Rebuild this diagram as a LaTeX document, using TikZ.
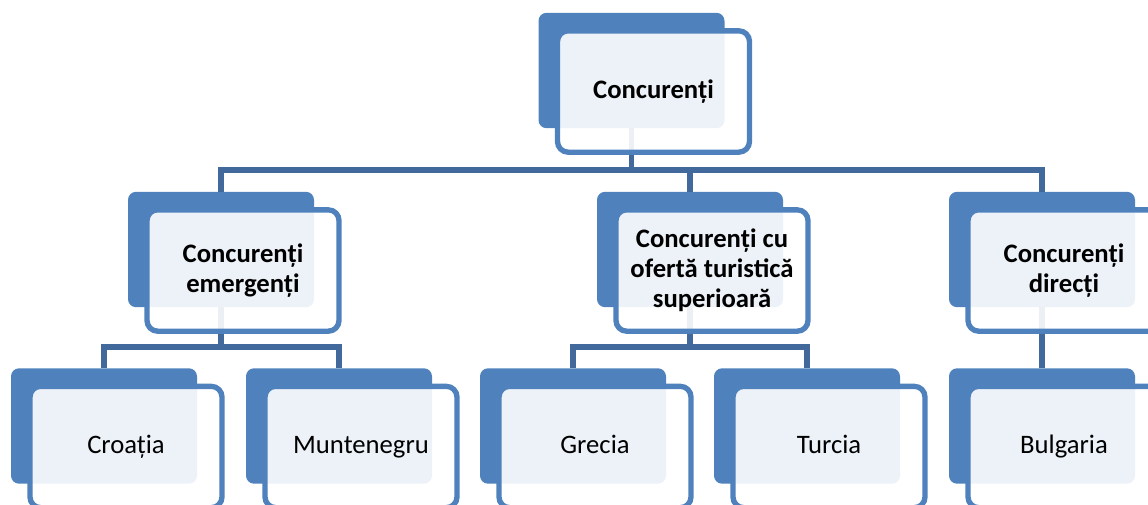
\documentclass[tikz,border=0pt]{standalone}
\usepackage{fontspec}
\setmainfont{Carlito}
\usetikzlibrary{positioning}
\definecolor{boxblue}{HTML}{4F81BD}
\definecolor{linkblue}{HTML}{41699C}

\begin{document}
\begin{tikzpicture}[x=0.75pt, y=-0.75pt,
  backbox/.style={fill=boxblue, rounded corners=6pt, minimum width=139.5pt, minimum height=86.5pt, inner sep=0pt},
  frontbox/.style={draw=boxblue, line width=4pt, fill=white, fill opacity=0.9, text opacity=1, rounded corners=8pt,
    minimum width=144pt, minimum height=91pt, align=center, inner sep=0pt,
    font=\fontsize{20}{22.5}\selectfont, xshift=16.5pt, yshift=-15.75pt},
  leafbox/.style={frontbox, text height=14pt, text depth=4pt},
  link/.style={draw=linkblue, line width=4pt}]
  \useasboundingbox (0,0) rectangle (1148,504);
  \clip (0,0) rectangle (1148,504);
  % back boxes
  \node[backbox] (top) at (631.5,70.5) {};
  \node[backbox] (emerg) at (221,249.5) {};
  \node[backbox] (oferta) at (690,249.5) {};
  \node[backbox] (direct) at (1042,249.5) {};
  \node[backbox] (croatia) at (104,426) {};
  \node[backbox] (munte) at (339,426) {};
  \node[backbox] (grecia) at (573,426) {};
  \node[backbox] (turcia) at (807,426) {};
  \node[backbox] (bulgaria) at (1042,426) {};
  % connectors
  \coordinate (bus) at (631.5,170);
  \coordinate (busemerg) at (221,347);
  \coordinate (busoferta) at (690,347);
  \foreach \n in {emerg,oferta,direct}
    \draw[link] (top.south) -- (bus) -| (\n.north);
  \foreach \n in {croatia,munte}
    \draw[link] (emerg.south) -- (busemerg) -| (\n.north);
  \foreach \n in {grecia,turcia}
    \draw[link] (oferta.south) -- (busoferta) -| (\n.north);
  \draw[link] (direct.south) -- (bulgaria.north);
  % front boxes
  \node[frontbox] (topf) at (top) {\textbf{Concurenți}};
  \node[frontbox] (emergf) at (emerg) {\textbf{Concurenți}\\\textbf{emergenți}};
  \node[frontbox] (ofertaf) at (oferta) {\textbf{Concurenți cu}\\\textbf{ofertă turistică}\\\textbf{superioară}};
  \node[frontbox] (directf) at (direct) {\textbf{Concurenți}\\\textbf{direcți}};
  \node[leafbox] (croatiaf) at (croatia) {Croația};
  \node[leafbox] (muntef) at (munte) {Muntenegru};
  \node[leafbox] (greciaf) at (grecia) {Grecia};
  \node[leafbox] (turciaf) at (turcia) {Turcia};
  \node[leafbox] (bulgariaf) at (bulgaria) {Bulgaria};
\end{tikzpicture}
\end{document}
